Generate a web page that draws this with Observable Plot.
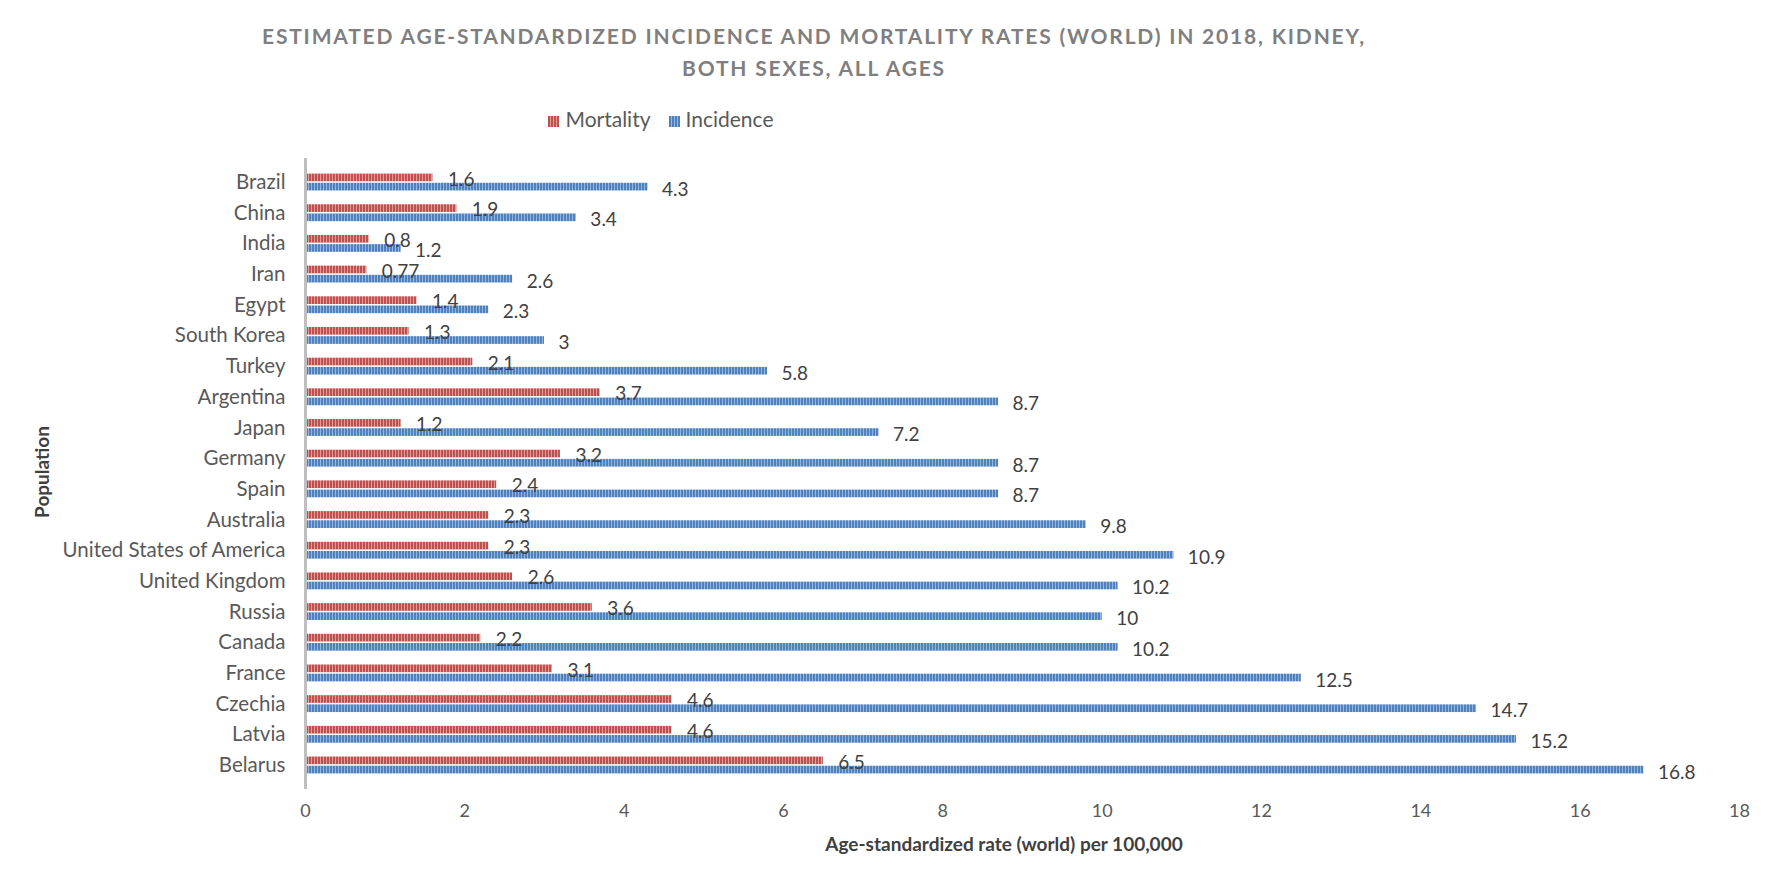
<!DOCTYPE html>
<html>
<head>
<meta charset="utf-8">
<script src="https://cdn.jsdelivr.net/npm/d3@7"></script>
<script src="https://cdn.jsdelivr.net/npm/@observablehq/plot@0.6"></script>
<style>
  html, body { margin: 0; padding: 0; background: #fff; }
  #wrap { position: relative; width: 1772px; height: 883px; font-family: Lato, "Open Sans", sans-serif; overflow: hidden; }
  #title { position: absolute; left: 0; width: 1628px; top: 20px; text-align: center; font-weight: bold; font-size: 21px; letter-spacing: 1.8px; color: #7f7f7f; line-height: 32px; }
  #legend { position: absolute; left: 0; width: 1322px; top: 106px; text-align: center; font-size: 21px; color: #595959; }
  #legend span.item { display: inline-block; margin: 0 9px; }
  #legend span.sw { display: inline-block; width: 11px; height: 11px; margin-right: 6px; vertical-align: 0px; }
  #chart { position: absolute; left: 0; top: 140px; }
  #xlabel { position: absolute; left: 704px; width: 600px; top: 832px; text-align: center; font-weight: bold; font-size: 19px; color: #404040; }
  #ylabel { position: absolute; left: 41px; top: 472px; transform: translate(-50%, -50%) rotate(-90deg); font-weight: bold; font-size: 19px; color: #404040; white-space: nowrap; }
</style>
</head>
<body>
<div id="wrap">
  <div id="title">ESTIMATED AGE-STANDARDIZED INCIDENCE AND MORTALITY RATES (WORLD) IN 2018, KIDNEY,<br>BOTH SEXES, ALL AGES</div>
  <div id="legend"></div>
  <div id="chart"></div>
  <div id="xlabel">Age-standardized rate (world) per 100,000</div>
  <div id="ylabel">Population</div>
</div>
<script>
const countries = ["Brazil","China","India","Iran","Egypt","South Korea","Turkey","Argentina","Japan","Germany","Spain","Australia","United States of America","United Kingdom","Russia","Canada","France","Czechia","Latvia","Belarus"];
const mortality = [1.6,1.9,0.8,0.77,1.4,1.3,2.1,3.7,1.2,3.2,2.4,2.3,2.3,2.6,3.6,2.2,3.1,4.6,4.6,6.5];
const incidence = [4.3,3.4,1.2,2.6,2.3,3,5.8,8.7,7.2,8.7,8.7,9.8,10.9,10.2,10,10.2,12.5,14.7,15.2,16.8];
const seriesNames = ["Mortality", "Incidence"];
const xTicks = [0,2,4,6,8,10,12,14,16,18];

const mortRows = countries.map((c, i) => ({country: c, value: mortality[i]}));
const incRows = countries.map((c, i) => ({country: c, value: incidence[i]}));

const plot = Plot.plot({
  width: 1772,
  height: 743,
  marginLeft: 305,
  marginRight: 33,
  marginTop: 18,
  marginBottom: 94,
  style: {fontFamily: "Lato, 'Open Sans', sans-serif", fontSize: "18px", color: "#595959", background: "transparent"},
  x: {domain: [0, 18], ticks: xTicks},
  y: {domain: countries, paddingInner: 0.45, paddingOuter: 0.508, align: 0.5, round: false},
  marks: [
    Plot.axisX({ticks: xTicks, tickSize: 0, tickPadding: 15, label: null, fontSize: 18}),
    Plot.axisY({tickSize: 0, tickPadding: 20, label: null, fontSize: 20.5}),
    Plot.barX(mortRows, {x: "value", y: "country", fill: "url(#stripeRed)", insetBottom: 9.2, insetTop: 0}),
    Plot.barX(incRows, {x: "value", y: "country", fill: "url(#stripeBlue)", insetTop: 9.2, insetBottom: 0}),
    Plot.ruleX([0], {stroke: "#bfbfbf", strokeWidth: 3}),
    Plot.text(mortRows, {x: "value", y: "country", text: d => String(d.value), textAnchor: "start", dx: 15, dy: -3, fill: "#404040", fontSize: 19}),
    Plot.text(incRows, {x: "value", y: "country", text: d => String(d.value), textAnchor: "start", dx: 14, dy: 7, fill: "#404040", fontSize: 19})
  ]
});

const ns = "http://www.w3.org/2000/svg";
const defs = document.createElementNS(ns, "defs");
function addPattern(id, base, light) {
  const p = document.createElementNS(ns, "pattern");
  p.setAttribute("id", id);
  p.setAttribute("patternUnits", "userSpaceOnUse");
  p.setAttribute("width", "3");
  p.setAttribute("height", "3");
  const r1 = document.createElementNS(ns, "rect");
  r1.setAttribute("width", "3"); r1.setAttribute("height", "3"); r1.setAttribute("fill", base);
  const r2 = document.createElementNS(ns, "rect");
  r2.setAttribute("x", "2"); r2.setAttribute("width", "1"); r2.setAttribute("height", "3"); r2.setAttribute("fill", light);
  p.appendChild(r1); p.appendChild(r2);
  defs.appendChild(p);
}
addPattern("stripeRed", "#c0504d", "#e49a98");
addPattern("stripeBlue", "#4f81bd", "#94b6e0");
plot.insertBefore(defs, plot.firstChild);
document.getElementById("chart").appendChild(plot);

const legend = document.getElementById("legend");
const legendBg = {
  Mortality: "repeating-linear-gradient(90deg, #c0504d 0 2px, #e49a98 2px 3px)",
  Incidence: "repeating-linear-gradient(90deg, #4f81bd 0 2px, #94b6e0 2px 3px)"
};
seriesNames.forEach(n => {
  const item = document.createElement("span");
  item.className = "item";
  const sw = document.createElement("span");
  sw.className = "sw";
  sw.style.background = legendBg[n];
  item.appendChild(sw);
  item.appendChild(document.createTextNode(n));
  legend.appendChild(item);
});
</script>
</body>
</html>
